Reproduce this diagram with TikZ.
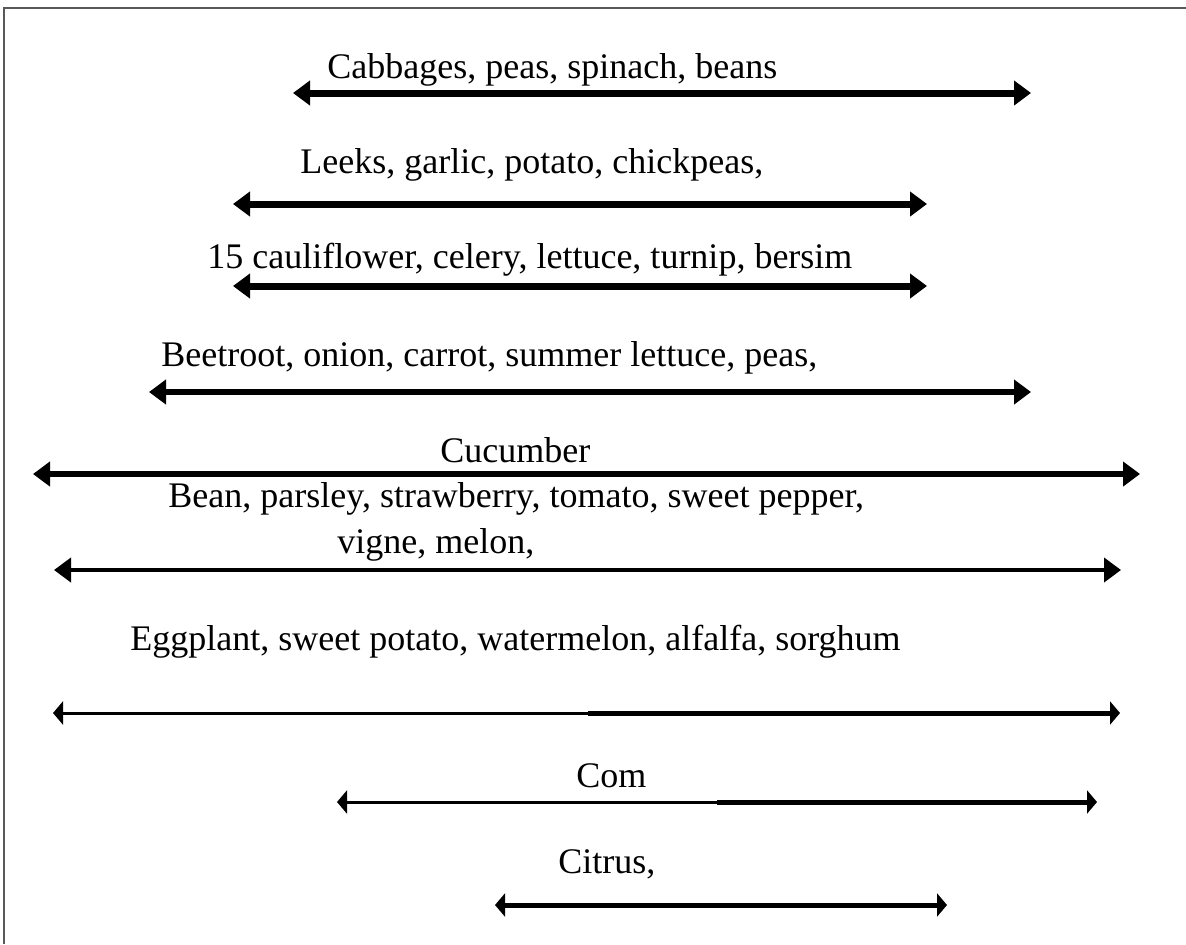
\documentclass[tikz,border=0pt]{standalone}
\usepackage{fontspec}
\setmainfont{Liberation Serif}
\usetikzlibrary{arrows.meta}

\begin{document}
\begin{tikzpicture}[
    x=0.5pt, y=-0.5pt,
    every node/.style = {font=\fontsize{18}{21}\selectfont, inner sep=0pt,
                         anchor=base west},
    bigarr/.style     = {{Triangle[length=8.5pt,width=12pt]}-{Triangle[length=8.5pt,width=12pt]}},
    smallarr/.style   = {{Triangle[length=5pt,width=11.5pt]}-{Triangle[length=5pt,width=11.5pt]}},
    frameln/.style    = {draw=black!65, line width=1pt}]

    \useasboundingbox (0,0) rectangle (1186,944);

    % Frame (top and left edge only)
    \coordinate (ftr) at (1186,8);
    \coordinate (ftl) at (4,8);
    \coordinate (fbl) at (4,944);
    \draw[frameln] (ftr) -- (ftl) -- (fbl);

    % Crop labels
    \node (cabb) at (327, 78)  {Cabbages, peas, spinach, beans};
    \node (leek) at (300,173)  {Leeks, garlic, potato, chickpeas,};
    \node (caul) at (207,268)  {15 cauliflower, celery, lettuce, turnip, bersim};
    \node (beet) at (161,366)  {Beetroot, onion, carrot, summer lettuce, peas,};
    \node (cucu) at (440,462)  {Cucumber};
    \node (bean) at (168,507)  {Bean, parsley, strawberry, tomato, sweet pepper,};
    \node (vign) at (337,553)  {vigne, melon,};
    \node (eggp) at (130,650)  {Eggplant, sweet potato, watermelon, alfalfa, sorghum};
    \node (corn) at (576,787)  {Com};
    \node (citr) at (558,873)  {Citrus,};

    % Arrow ends
    \coordinate (a1l) at (293, 93);  \coordinate (a1r) at (1031, 93);
    \coordinate (a2l) at (233,204);  \coordinate (a2r) at (927,204);
    \coordinate (a3l) at (233,286);  \coordinate (a3r) at (927,286);
    \coordinate (a4l) at (149,392);  \coordinate (a4r) at (1031,392);
    \coordinate (a5l) at (33,474);   \coordinate (a5r) at (1140,474);
    \coordinate (a6l) at (54,570);   \coordinate (a6r) at (1121,570);
    \coordinate (a7l) at (53,713);   \coordinate (a7m) at (588,713);  \coordinate (a7r) at (1120,713);
    \coordinate (a8l) at (337,802);  \coordinate (a8m) at (717,802);  \coordinate (a8r) at (1097,802);
    \coordinate (a9l) at (495,905);  \coordinate (a9r) at (947,905);

    % Arrows
    \draw[bigarr, line width=3.5pt] (a1l) -- (a1r);
    \draw[bigarr, line width=3.5pt] (a2l) -- (a2r);
    \draw[bigarr, line width=3.5pt] (a3l) -- (a3r);
    \draw[bigarr, line width=3pt]   (a4l) -- (a4r);
    \draw[bigarr, line width=3pt]   (a5l) -- (a5r);
    \draw[bigarr, line width=2pt]   (a6l) -- (a6r);

    \draw[smallarr, line width=1.5pt] (a7l) -- (a7r);
    \draw[line width=2.5pt] (a7m) -- ([xshift=-4pt]a7r);
    \draw[smallarr, line width=1.5pt] (a8l) -- (a8r);
    \draw[line width=2.5pt] (a8m) -- ([xshift=-4pt]a8r);
    \draw[smallarr, line width=2.5pt] (a9l) -- (a9r);
\end{tikzpicture}
\end{document}
